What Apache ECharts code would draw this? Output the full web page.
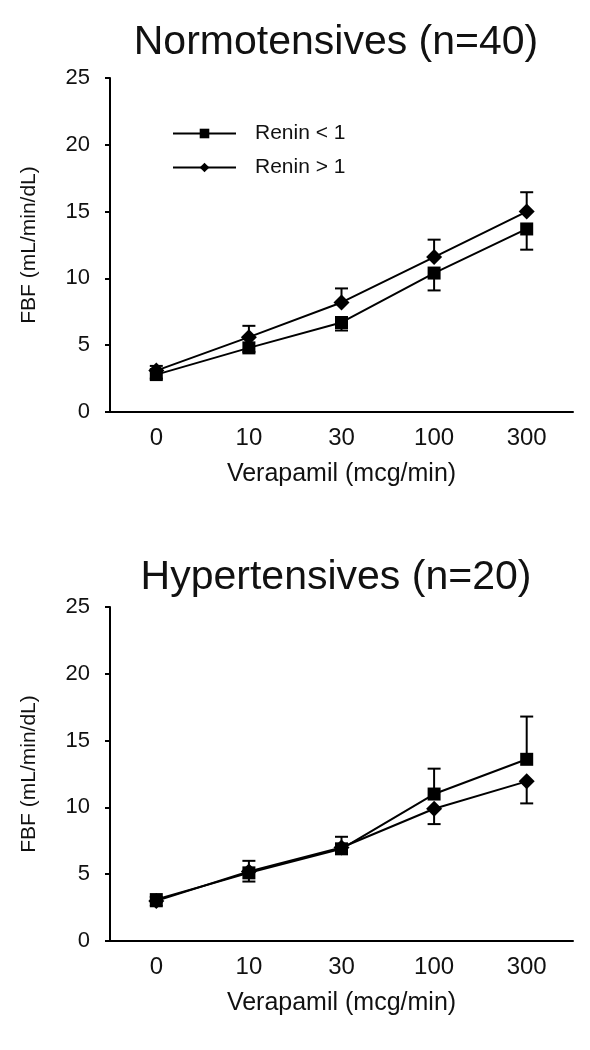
<!DOCTYPE html>
<html>
<head>
<meta charset="utf-8">
<script src="https://cdn.jsdelivr.net/npm/echarts@6/dist/echarts.min.js"></script>
<style>
html,body{margin:0;padding:0;background:#fff;}
#chart{width:590px;height:1050px;}
</style>
</head>
<body>
<div id="chart"></div>
<script>
// ---- data ----
var doses = ['0', '10', '30', '100', '300'];
var yTicks = [0, 5, 10, 15, 20, 25];
var seriesNames = ['Renin < 1', 'Renin > 1'];
var panelTitles = ['Normotensives (n=40)', 'Hypertensives (n=20)'];
var xAxisTitle = 'Verapamil (mcg/min)';
var yAxisTitle = 'FBF (mL/min/dL)';

// Normotensives
var normLow = [2.8, 4.8, 6.7, 10.4, 13.7];      // Renin < 1 (squares)
var normLowErr = [0.3, 0.3, 0.6, 1.3, 1.55];
var normHigh = [3.1, 5.6, 8.2, 11.6, 15.0];     // Renin > 1 (diamonds)
var normHighErr = [0.35, 0.85, 1.05, 1.3, 1.45];

// Hypertensives
var hypLow = [3.1, 5.1, 6.9, 11.0, 13.6];       // Renin < 1 (squares)
var hypLowErr = [0.2, 0.9, 0.9, 1.9, 3.2];
var hypHigh = [3.0, 5.2, 7.0, 9.9, 11.95];      // Renin > 1 (diamonds)
var hypHighErr = [0.4, 0.75, 0.3, 1.15, 1.65];

// ---- chart ----
var FONT = '"Liberation Sans", Arial, sans-serif';
var chart = echarts.init(document.getElementById('chart'), null, {renderer: 'canvas'});

function lineSeries(name, values, symbol, symbolSize, axisIdx) {
  return {
    name: name, type: 'line', xAxisIndex: axisIdx, yAxisIndex: axisIdx,
    data: values, symbol: symbol, symbolSize: symbolSize,
    lineStyle: {color: '#000', width: 2},
    itemStyle: {color: '#000'},
    z: 3, animation: false
  };
}

function errSeries(values, errs, dir, axisIdx) {
  var data = values.map(function (v, i) { return [i, v, v + dir * errs[i]]; });
  return {
    type: 'custom', xAxisIndex: axisIdx, yAxisIndex: axisIdx,
    data: data, encode: {x: 0, y: [1, 2]}, z: 2, animation: false, silent: true,
    renderItem: function (params, api) {
      var p0 = api.coord([api.value(0), api.value(1)]);
      var p1 = api.coord([api.value(0), api.value(2)]);
      var hw = 6.5;
      return {
        type: 'group',
        children: [
          {type: 'line', shape: {x1: p0[0], y1: p0[1], x2: p1[0], y2: p1[1]}, style: {stroke: '#000', lineWidth: 2}},
          {type: 'line', shape: {x1: p1[0] - hw, y1: p1[1], x2: p1[0] + hw, y2: p1[1]}, style: {stroke: '#000', lineWidth: 2}}
        ]
      };
    }
  };
}

function xAxis(idx) {
  return {
    type: 'category', gridIndex: idx, data: doses, boundaryGap: true,
    axisLine: {lineStyle: {color: '#000', width: 2}},
    axisTick: {alignWithLabel: true, length: 5, lineStyle: {color: '#000', width: 2}},
    axisLabel: {color: '#111', fontSize: 24, fontFamily: FONT, margin: 14},
    name: xAxisTitle, nameLocation: 'middle', nameGap: 50,
    nameTextStyle: {color: '#111', fontSize: 25, fontFamily: FONT},
    splitLine: {show: false}
  };
}

function yAxis(idx) {
  return {
    type: 'value', gridIndex: idx, min: yTicks[0], max: yTicks[yTicks.length - 1], interval: yTicks[1] - yTicks[0],
    axisLine: {show: true, lineStyle: {color: '#000', width: 2}},
    axisTick: {show: true, length: 5, lineStyle: {color: '#000', width: 2}},
    axisLabel: {color: '#111', fontSize: 22, fontFamily: FONT, margin: 20},
    name: yAxisTitle, nameLocation: 'middle', nameGap: 70, nameRotate: 90,
    nameTextStyle: {color: '#111', fontSize: 21, fontFamily: FONT},
    splitLine: {show: false}
  };
}

var option = {
  backgroundColor: '#fff',
  animation: false,
  title: [
    {text: panelTitles[0], left: 331, top: 17, textAlign: 'center',
     textStyle: {fontSize: 41, fontWeight: 'normal', color: '#111', fontFamily: FONT}},
    {text: panelTitles[1], left: 331, top: 552, textAlign: 'center',
     textStyle: {fontSize: 41, fontWeight: 'normal', color: '#111', fontFamily: FONT}}
  ],
  legend: {
    data: seriesNames, orient: 'vertical', left: 167, top: 118,
    itemWidth: 63, itemHeight: 12, itemGap: 13,
    textStyle: {color: '#111', fontSize: 21, fontFamily: FONT, padding: [0, 0, 0, 14]},
    selectedMode: false
  },
  grid: [
    {left: 110, right: 17, top: 78, height: 334},
    {left: 110, right: 17, top: 607, height: 334}
  ],
  xAxis: [xAxis(0), xAxis(1)],
  yAxis: [yAxis(0), yAxis(1)],
  series: [
    errSeries(normLow, normLowErr, -1, 0),
    errSeries(normHigh, normHighErr, 1, 0),
    lineSeries(seriesNames[0], normLow, 'rect', 13, 0),
    lineSeries(seriesNames[1], normHigh, 'diamond', [16, 16], 0),
    errSeries(hypLow, hypLowErr, 1, 1),
    errSeries(hypHigh, hypHighErr, -1, 1),
    lineSeries(seriesNames[0], hypLow, 'rect', 13, 1),
    lineSeries(seriesNames[1], hypHigh, 'diamond', [16, 16], 1)
  ]
};
chart.setOption(option);
</script>
</body>
</html>
